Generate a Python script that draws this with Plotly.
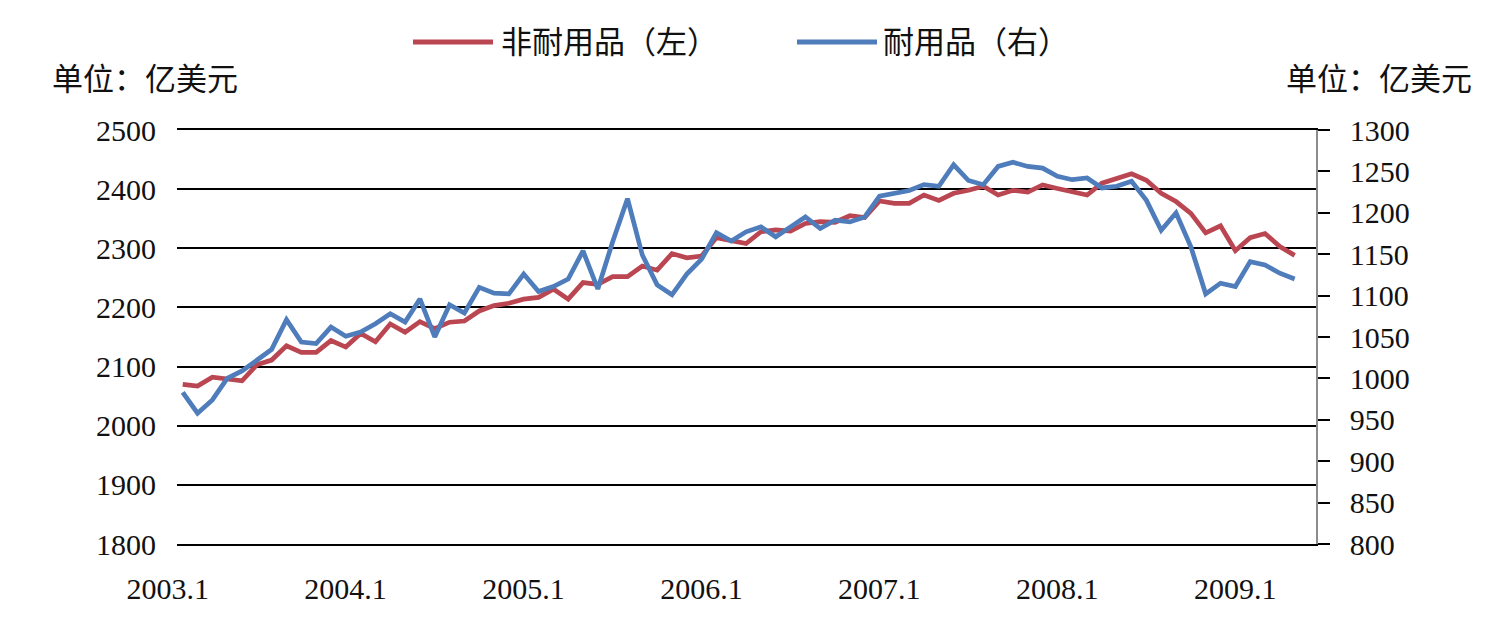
import plotly.graph_objects as go

# ---- data ----
months = [f"{y}.{m}" for y in range(2003, 2010) for m in range(1, 13)][:76]  # 2003.1 .. 2009.4

nondurable = [2070, 2067, 2082, 2078, 2076, 2103, 2111, 2135, 2124, 2124, 2144, 2133,
              2156, 2142, 2172, 2158, 2176, 2164, 2175, 2177, 2194, 2203, 2207, 2214,
              2217, 2231, 2214, 2242, 2239, 2252, 2252, 2270, 2263, 2291, 2284, 2287,
              2318, 2313, 2308, 2328, 2331, 2329, 2342, 2345, 2344, 2355, 2352, 2380,
              2376, 2376, 2390, 2381, 2393, 2398, 2405, 2390, 2398, 2395, 2407, 2401,
              2395, 2390, 2410, 2419, 2426, 2415, 2393, 2379, 2359, 2326, 2338, 2296,
              2318, 2325, 2303, 2288]

durable = [983, 958, 974, 1000, 1009, 1022, 1035, 1071, 1044, 1042, 1062, 1051,
           1056, 1066, 1078, 1068, 1096, 1050, 1089, 1079, 1110, 1103, 1102, 1126,
           1105, 1111, 1120, 1154, 1108, 1165, 1217, 1149, 1113, 1101, 1126, 1144,
           1176, 1166, 1177, 1183, 1171, 1183, 1195, 1181, 1191, 1189, 1195, 1220,
           1224, 1227, 1234, 1232, 1258, 1239, 1234, 1256, 1261, 1256, 1254, 1244,
           1240, 1242, 1230, 1232, 1238, 1215, 1179, 1200, 1159, 1102, 1115, 1111,
           1141, 1137, 1127, 1120]

x_tick_labels = ["2003.1", "2004.1", "2005.1", "2006.1", "2007.1", "2008.1", "2009.1"]
left_ticks = [1800, 1900, 2000, 2100, 2200, 2300, 2400, 2500]
right_ticks = [800, 850, 900, 950, 1000, 1050, 1100, 1150, 1200, 1250, 1300]

name_nd = "非耐用品（左）"
name_d = "耐用品（右）"
unit_label = "单位：亿美元"

RED = "#BA4651"
BLUE = "#4F7CBA"
FONT = "Liberation Serif, Noto Sans CJK SC, serif"
TXT = "#111111"

fig = go.Figure()
fig.add_trace(go.Scatter(x=months, y=nondurable, name=name_nd, mode="lines",
                         line=dict(color=RED, width=4.7), yaxis="y"))
fig.add_trace(go.Scatter(x=months, y=durable, name=name_d, mode="lines",
                         line=dict(color=BLUE, width=4.7), yaxis="y2"))

fig.update_layout(
    width=1504, height=630,
    margin=dict(l=177, r=188, t=130, b=86),
    paper_bgcolor="white", plot_bgcolor="white",
    showlegend=False,
    font=dict(family=FONT, size=30, color=TXT),
    xaxis=dict(type="category", range=[-0.385, 76.44],
               tickvals=x_tick_labels, ticktext=x_tick_labels,
               ticklabelshift=-15, ticklabelstandoff=17,
               showgrid=False, zeroline=False, ticks="",
               showline=True, mirror=True, linecolor="#000000", linewidth=2,
               tickfont=dict(family=FONT, size=30, color=TXT)),
    yaxis=dict(range=[1800, 2500], tickvals=left_ticks, showgrid=True,
               gridcolor="#000000", gridwidth=2, zeroline=False, showline=False,
               ticks="", ticklabelstandoff=20,
               tickfont=dict(family=FONT, size=30, color=TXT)),
    yaxis2=dict(range=[800, 1300], tickvals=right_ticks, overlaying="y", side="right",
                showgrid=False, zeroline=False, showline=True, linecolor="#8c8c8c",
                linewidth=1.5, ticks="outside", ticklen=12, tickwidth=2,
                tickcolor="#000000", ticklabelstandoff=14,
                tickfont=dict(family=FONT, size=30, color=TXT)),
)

# manual legend (long line samples like the reference)
def px_x(px):
    return (px - 177) / (1504 - 177 - 188)

def px_y(py):
    return (630 - 86 - py) / (630 - 130 - 86)

legend_items = [(name_nd, RED, 413, 493, 499), (name_d, BLUE, 797, 877, 881)]
for label, color, x0, x1, xt in legend_items:
    fig.add_shape(type="line", xref="paper", yref="paper",
                  x0=px_x(x0), x1=px_x(x1), y0=px_y(42), y1=px_y(42),
                  line=dict(color=color, width=5))
    fig.add_annotation(text=label, xref="paper", yref="paper", x=px_x(xt), y=px_y(43),
                       xanchor="left", yanchor="middle", showarrow=False,
                       font=dict(family=FONT, size=31, color=TXT))

fig.add_annotation(text=unit_label, xref="paper", yref="paper", x=px_x(50), y=px_y(80),
                   xanchor="left", yanchor="middle", showarrow=False,
                   font=dict(family=FONT, size=31, color=TXT))
fig.add_annotation(text=unit_label, xref="paper", yref="paper", x=px_x(1474), y=px_y(80),
                   xanchor="right", yanchor="middle", showarrow=False,
                   font=dict(family=FONT, size=31, color=TXT))

fig.write_html("out.html")
